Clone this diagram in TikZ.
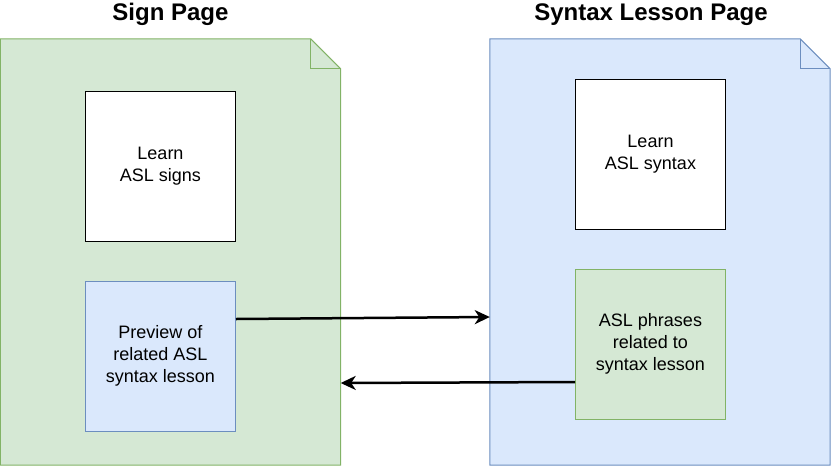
\documentclass[tikz,border=0pt]{standalone}
\usepackage{fontspec}
\setmainfont{Liberation Sans}
\usetikzlibrary{arrows.meta}
\definecolor{gfill}{HTML}{D5E8D4}
\definecolor{gline}{HTML}{82B366}
\definecolor{bfill}{HTML}{DAE8FC}
\definecolor{bline}{HTML}{6C8EBF}

\begin{document}
\begin{tikzpicture}[x=1pt,y=-1pt,
    doc/.style={minimum width=340pt,minimum height=426pt,inner sep=0pt},
    card/.style={minimum width=150pt,minimum height=150pt,inner sep=0pt,line width=1pt,align=center,font=\fontsize{18}{21.7}\selectfont},
    heading/.style={anchor=base,font=\fontsize{24}{28}\selectfont\bfseries},
    link/.style={line width=2.5pt,-{Stealth[length=15pt,width=14pt,inset=4.5pt]}}]
    \useasboundingbox (0,0) rectangle (831,467);

    \node[doc] (signpage) at (170.5,252) {};
    \node[doc] (synpage) at (660,252) {};

    %pages with folded corner
    \foreach \p/\f/\l in {signpage/gfill/gline,synpage/bfill/bline}{
        \draw[line width=1pt,fill=\f,draw=\l] (\p.south west) -- (\p.north west) -- ([xshift=-30pt]\p.north east) -- ([yshift=-30pt]\p.north east) -- (\p.south east) -- cycle;
        \draw[line width=1pt,draw=\l] ([xshift=-30pt]\p.north east) |- ([yshift=-30pt]\p.north east);
    }

    \node[heading] (signtitle) at (170.5,20) {Sign Page};
    \node[heading] (syntitle) at (651,20) {Syntax Lesson Page};

    \node[card,draw=black,fill=white] (learnsign) at (160.5,166.5) {Learn\\ASL signs};
    \node[card,draw=bline,fill=bfill] (preview) at (160.5,356) {Preview of\\related ASL\\syntax lesson};
    \node[card,draw=black,fill=white] (learnsyn) at (650.5,154) {Learn\\ASL syntax};
    \node[card,draw=gline,fill=gfill] (phrases) at (650.5,344) {ASL phrases\\related to\\syntax lesson};

    %arrows between pages
    \draw[link] ([yshift=37pt]preview.east) -- ([yshift=-65pt]synpage.west);
    \draw[link] ([yshift=-38pt]phrases.west) -- ([yshift=-131pt]signpage.east);
\end{tikzpicture}
\end{document}
